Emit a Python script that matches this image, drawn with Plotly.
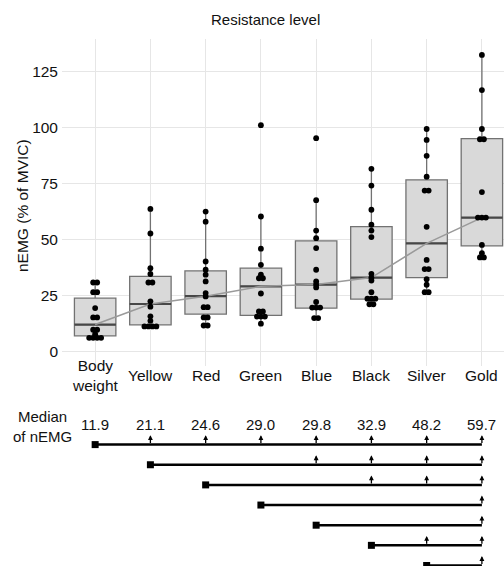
import plotly.graph_objects as go

# ---------------- data ----------------
categories = ["Body<br>weight", "Yellow", "Red", "Green", "Blue", "Black", "Silver", "Gold"]

pts_body   = [30.7, 30.7, 26.4, 26.4, 19.3, 15.1, 15.1, 9.6, 9.6, 7.6, 6.0, 6.0, 6.0, 6.0]
pts_yellow = [63.6, 52.6, 37.1, 34.5, 30.7, 30.7, 22.3, 19.9, 15.6, 13.6, 11.1, 11.1, 11.1, 11.1]
pts_red    = [62.4, 57.9, 40.1, 36.4, 34.2, 31.2, 26.0, 24.5, 19.7, 19.7, 15.1, 15.1, 11.5, 11.5]
pts_green  = [101.0, 60.2, 45.8, 38.6, 34.2, 32.6, 32.6, 25.8, 17.8, 17.8, 15.5, 15.5, 15.5, 12.3]
pts_blue   = [95.2, 67.5, 53.9, 50.5, 46.1, 36.4, 31.2, 29.8, 28.5, 22.0, 19.5, 19.5, 19.5, 14.8, 14.8]
pts_black  = [81.5, 74.0, 63.2, 56.5, 53.9, 51.0, 34.6, 32.9, 31.6, 26.4, 23.5, 23.5, 23.5, 21.0, 21.0]
pts_silver = [99.3, 94.4, 87.3, 78.0, 71.8, 71.8, 55.6, 40.8, 36.7, 36.7, 32.2, 29.7, 26.4, 26.4]
pts_gold   = [132.4, 116.7, 99.3, 94.7, 94.7, 71.1, 59.7, 59.7, 59.7, 47.5, 43.8, 41.9, 41.9]
points = [pts_body, pts_yellow, pts_red, pts_green, pts_blue, pts_black, pts_silver, pts_gold]

q1      = [6.9, 11.8, 16.6, 16.0, 19.3, 23.3, 32.9, 47.1]
medians = [11.9, 21.1, 24.6, 29.0, 29.8, 32.9, 48.2, 59.7]
q3      = [23.7, 33.4, 35.9, 37.1, 49.3, 55.7, 76.6, 95.0]
lower_w = [6.0, 11.1, 11.5, 12.3, 14.8, 21.0, 26.4, 41.9]
upper_w = [30.7, 63.6, 62.4, 60.2, 67.5, 81.5, 99.3, 132.4]

y_ticks = [0, 25, 50, 75, 100, 125]

# significant differences: reference level index -> higher levels that differ
sig_targets = {
    0: [1, 2, 3, 4, 5, 6, 7],
    1: [4, 5, 6, 7],
    2: [5, 6, 7],
    3: [7],
    4: [7],
    5: [6, 7],
    6: [7],
}

# ---------------- layout constants ----------------
W, H = 504, 566
ML, MT, MR, MB = 62, 39, 0, 0
PH = H - MT - MB
PW = W - ML - MR
def py(p):  # pixel y -> paper y
    return (H - MB - p) / PH
def px(p):  # pixel x -> paper x
    return (p - ML) / PW

FONT = "Liberation Sans, Arial, sans-serif"
xs = list(range(len(categories)))
BOX_W = 0.75

fig = go.Figure()

# boxes
fig.add_trace(go.Box(
    x=xs, q1=q1, median=medians, q3=q3,
    lowerfence=lower_w, upperfence=upper_w,
    width=BOX_W, boxpoints=False, whiskerwidth=0,
    fillcolor="#d9d9d9", line=dict(color="#727272", width=1.3),
    hoverinfo="skip", showlegend=False, xaxis="x", yaxis="y",
))

# darker median bars
mx, my = [], []
for i, m in zip(xs, medians):
    mx += [i - BOX_W / 2, i + BOX_W / 2, None]
    my += [m, m, None]
fig.add_trace(go.Scatter(x=mx, y=my, mode="lines",
                         line=dict(color="#474747", width=2.2),
                         showlegend=False, hoverinfo="skip"))

# line through medians
fig.add_trace(go.Scatter(x=xs, y=medians, mode="lines",
                         line=dict(color="#9a9a9a", width=1.6),
                         showlegend=False, hoverinfo="skip"))

# dot-plot style points
STEP = 0.072
dx, dy = [], []
for i, vals in enumerate(points):
    counts = {}
    for v in vals:
        counts[v] = counts.get(v, 0) + 1
    seen = {}
    for v in vals:
        k = counts[v]
        j = seen.get(v, 0)
        seen[v] = j + 1
        dx.append(i + (j - (k - 1) / 2) * STEP)
        dy.append(v)
fig.add_trace(go.Scatter(x=dx, y=dy, mode="markers",
                         marker=dict(color="black", size=5.8),
                         showlegend=False, hoverinfo="skip"))

# ---------------- lower panel: significance lines ----------------
lx, ly, sx, sy = [], [], [], []
annotations = []
for start, targets in sig_targets.items():
    row = start + 1
    lx += [start, xs[-1], None]
    ly += [row, row, None]
    sx.append(start)
    sy.append(row)
    for t in targets:
        annotations.append(dict(
            x=t, y=row - 0.47, ax=t, ay=row,
            xref="x2", yref="y2", axref="x2", ayref="y2",
            text="", showarrow=True, arrowhead=2, arrowsize=0.75,
            arrowwidth=1.3, arrowcolor="black", standoff=0, startstandoff=0,
        ))
fig.add_trace(go.Scatter(x=lx, y=ly, mode="lines", xaxis="x2", yaxis="y2",
                         line=dict(color="black", width=2.5),
                         showlegend=False, hoverinfo="skip", cliponaxis=False))
fig.add_trace(go.Scatter(x=sx, y=sy, mode="markers", xaxis="x2", yaxis="y2",
                         marker=dict(symbol="square", color="black", size=7),
                         showlegend=False, hoverinfo="skip", cliponaxis=False))

# median value labels
for i, m in zip(xs, medians):
    annotations.append(dict(x=i, y=0, xref="x2", yref="y2", text=f"{m:.1f}",
                            showarrow=False, font=dict(size=15, color="#111", family=FONT),
                            xanchor="center", yanchor="middle"))
annotations.append(dict(x=px(42), y=py(426), xref="paper", yref="paper",
                        text="Median<br>of nEMG", showarrow=False, align="center",
                        font=dict(size=15, color="#111", family=FONT),
                        xanchor="center", yanchor="middle"))

# x category labels
for i, c in zip(xs, categories):
    annotations.append(dict(x=i, y=py(376), xref="x", yref="paper", text=c,
                            showarrow=False, align="center",
                            font=dict(size=15.5, color="#111", family=FONT),
                            xanchor="center", yanchor="middle"))

# titles
annotations.append(dict(x=px(265), y=py(19), xref="paper", yref="paper",
                        text="Resistance level", showarrow=False,
                        font=dict(size=15, color="#111", family=FONT),
                        xanchor="center", yanchor="middle"))
annotations.append(dict(x=px(22), y=py(206), xref="paper", yref="paper",
                        text="nEMG (% of MVIC)", textangle=-90, showarrow=False,
                        font=dict(size=15.5, color="#111", family=FONT),
                        xanchor="center", yanchor="middle"))

fig.update_layout(
    width=W, height=H,
    margin=dict(l=ML, r=MR, t=MT, b=MB, pad=0),
    paper_bgcolor="white", plot_bgcolor="white",
    font=dict(family=FONT, size=15, color="#111"),
    showlegend=False,
    xaxis=dict(domain=[0, 1], range=[-0.6, 7.4], tickvals=xs, showticklabels=False,
               showgrid=True, gridcolor="#e6e6e6", gridwidth=1, zeroline=False,
               showline=False, ticks="", anchor="y"),
    yaxis=dict(domain=[py(366), 1], range=[-6.6, 139.5], tickvals=y_ticks,
               showgrid=True, gridcolor="#e6e6e6", gridwidth=1, zeroline=False,
               showline=False, ticks="", ticklabelstandoff=3,
               tickfont=dict(size=15.5, color="#111", family=FONT), anchor="x"),
    xaxis2=dict(domain=[0, 1], matches="x", visible=False, anchor="y2"),
    yaxis2=dict(domain=[0, py(424.45)], range=[7.025, 0], visible=False, anchor="x2"),
    annotations=annotations,
)

fig.write_html(
    "out.html",
    config={"displayModeBar": False},
    post_script="document.body.style.margin='0';document.body.style.overflow='hidden';",
)
